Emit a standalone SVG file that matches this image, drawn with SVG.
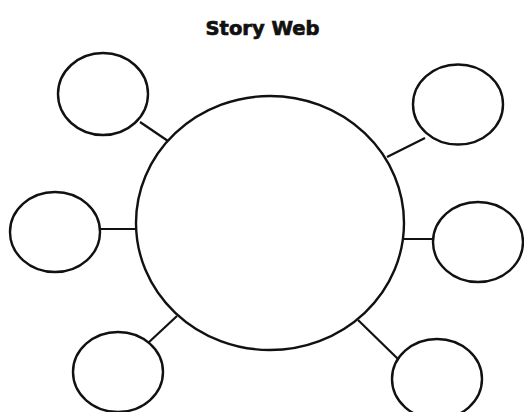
<svg xmlns="http://www.w3.org/2000/svg" width="524" height="412" viewBox="0 0 524 412">
<style>
.n{fill:#fff;stroke:#111;stroke-width:2.4}
.c line{stroke:#111;stroke-width:2.2}
.t{font-family:"DejaVu Sans","Liberation Sans",sans-serif;font-weight:bold;font-size:19.5px;fill:#111;stroke:#111;stroke-width:0.7}
</style>
<rect width="524" height="412" fill="#fff"/>
<text class="t" x="262.5" y="35" text-anchor="middle">Story Web</text>
<g class="c" id="connectors">
<line x1="140" y1="122" x2="168" y2="141"/>
<line x1="387" y1="157" x2="425" y2="138"/>
<line x1="100" y1="229" x2="137" y2="229"/>
<line x1="400" y1="239" x2="434" y2="239"/>
<line x1="148" y1="343" x2="177" y2="316"/>
<line x1="358" y1="320" x2="398" y2="359"/>
</g>
<g id="center"><ellipse class="n" cx="270" cy="223" rx="134" ry="127"/></g>
<g id="topLeft"><ellipse class="n" cx="103" cy="94" rx="45" ry="41"/></g>
<g id="topRight"><ellipse class="n" cx="458" cy="104.5" rx="45" ry="40"/></g>
<g id="midLeft"><ellipse class="n" cx="55" cy="232" rx="45" ry="40"/></g>
<g id="midRight"><ellipse class="n" cx="478" cy="242" rx="45" ry="40"/></g>
<g id="botLeft"><ellipse class="n" cx="118" cy="372" rx="45" ry="40"/></g>
<g id="botRight"><ellipse class="n" cx="437" cy="379" rx="45" ry="40"/></g>
</svg>
